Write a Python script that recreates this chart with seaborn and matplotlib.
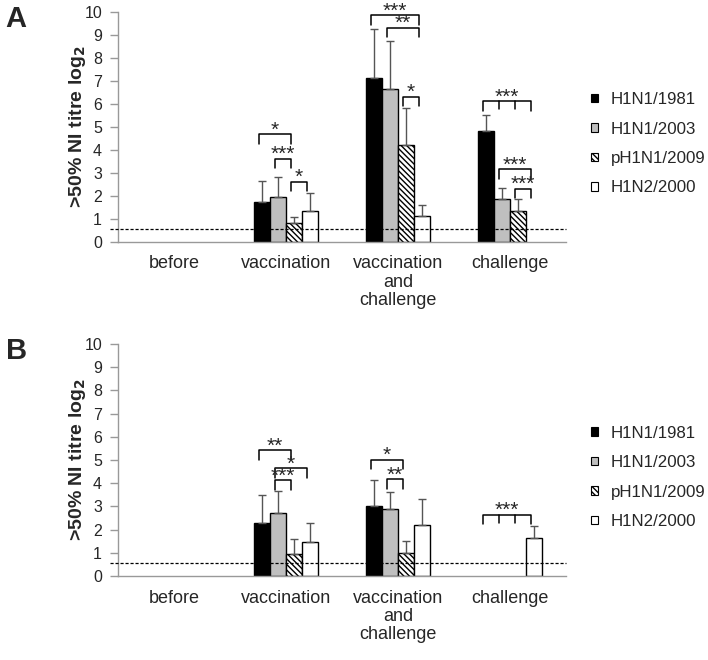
import numpy as np
import pandas as pd
import matplotlib
matplotlib.use("Agg")
import matplotlib.pyplot as plt
import seaborn as sns
from matplotlib.patches import Patch

# ------------------------------------------------------
# Data
# ------------------------------------------------------
groups = ["before", "vaccination", "vaccination\nand\nchallenge", "challenge"]
strains = ["H1N1/1981", "H1N1/2003", "pH1N1/2009", "H1N2/2000"]

# panel A: means and upper SD
a_h1n1_1981 = [0, 1.7, 7.1, 4.8]
a_h1n1_2003 = [0, 1.95, 6.65, 1.85]
a_ph1n1_2009 = [0, 0.8, 4.2, 1.35]
a_h1n2_2000 = [0, 1.35, 1.1, 0]
a_sd_1981 = [0, 0.95, 2.15, 0.7]
a_sd_2003 = [0, 0.85, 2.05, 0.5]
a_sd_2009 = [0, 0.25, 1.6, 0.5]
a_sd_h1n2 = [0, 0.75, 0.5, 0]
a_cutoff = 0.56

# panel B
b_h1n1_1981 = [0, 2.3, 3.0, 0]
b_h1n1_2003 = [0, 2.7, 2.9, 0]
b_ph1n1_2009 = [0, 0.95, 1.0, 0]
b_h1n2_2000 = [0, 1.45, 2.2, 1.65]
b_sd_1981 = [0, 1.2, 1.15, 0]
b_sd_2003 = [0, 0.95, 0.7, 0]
b_sd_2009 = [0, 0.65, 0.5, 0]
b_sd_h1n2 = [0, 0.85, 1.1, 0.5]
b_cutoff = 0.58

# significance brackets: (group, bar from, bar to, height, label, inner ticks)
a_brackets = [
    (1, 0, 2, 4.67, "*", False),
    (1, 1, 2, 3.6, "***", False),
    (1, 2, 3, 2.6, "*", False),
    (2, 0, 3, 9.85, "***", False),
    (2, 1, 3, 9.3, "**", False),
    (2, 2, 3, 6.3, "*", False),
    (3, 0, 3, 6.1, "***", True),
    (3, 1, 3, 3.15, "***", False),
    (3, 2, 3, 2.3, "***", False),
]
b_brackets = [
    (1, 0, 2, 5.43, "**", False),
    (1, 1, 3, 4.65, "*", False),
    (1, 1, 2, 4.13, "***", False),
    (2, 0, 2, 5.02, "*", False),
    (2, 1, 2, 4.16, "**", False),
    (3, 0, 3, 2.64, "***", True),
]

colors = ["black", "#bfbfbf", "white", "white"]
hatches = ["", "", "\\" * 6, ""]

sns.set_theme(style="white")
plt.rcParams["font.family"] = ["Liberation Sans", "DejaVu Sans"]
plt.rcParams["hatch.linewidth"] = 1.0


def make_frame(means, sds):
    rows = []
    for s, m_list, sd_list in zip(strains, means, sds):
        for g, m, sd in zip(groups, m_list, sd_list):
            rows.append({"group": g, "strain": s, "titre": m, "sd": sd})
    return pd.DataFrame(rows)


def draw_panel(ax, df, cutoff, brackets, letter):
    sns.barplot(data=df, x="group", y="titre", hue="strain", order=groups,
                hue_order=strains, palette=colors, width=0.571, errorbar=None,
                edgecolor="black", linewidth=1.0, saturation=1, ax=ax)

    bar_containers = list(ax.containers)
    centers = {}
    width = 0
    for k, cont in enumerate(bar_containers):
        sub = df[df["strain"] == strains[k]].set_index("group").loc[groups]
        for g_i, (bar, m, sd) in enumerate(zip(cont.patches, sub["titre"], sub["sd"])):
            bar.set_hatch(hatches[k])
            width = bar.get_width()
            cx = bar.get_x() + width / 2
            centers[(g_i, k)] = cx
            if m == 0:
                bar.set_visible(False)
            if sd > 0:
                ax.errorbar(cx, m, yerr=[[0], [sd]], fmt="none", ecolor="#555555",
                            elinewidth=1, capsize=2.6, capthick=1, zorder=1)

    ax.axhline(cutoff, xmin=-0.018, xmax=1, color="black", linestyle=(0, (2.5, 1.5)),
               linewidth=0.9, zorder=3, clip_on=False)

    drop = 0.42
    for g_i, i, j, h, label, inner in brackets:
        x0 = centers[(g_i, i)] - 0.2 * width
        x1 = centers[(g_i, j)] - 0.2 * width
        ax.plot([x0, x0, x1, x1], [h - drop, h, h, h - drop], color="black", lw=1.1,
                clip_on=False)
        if inner:
            for k in range(i + 1, j):
                xm = centers[(g_i, k)] - 0.2 * width
                ax.plot([xm, xm], [h, h - drop * 0.85], color="black", lw=1.1)
        ax.text((x0 + x1) / 2, h - 0.06, label, ha="center", va="baseline",
                fontsize=15, clip_on=False)

    ax.set_ylim(0, 10)
    ax.set_xlim(-0.5, 3.5)
    ax.set_yticks(range(0, 11))
    ax.set_xlabel("")
    ax.set_ylabel(">50% NI titre log$_\\mathbf{2}$", fontsize=14, fontweight="bold", labelpad=-3)
    ax.tick_params(axis="y", labelsize=11.5, length=5.5, width=1, color="#999999",
                   left=True, pad=6)
    ax.tick_params(axis="x", labelsize=13, length=0, pad=10)
    for lab in ax.get_xticklabels():
        lab.set_linespacing(1.1)
    for side in ["top", "right"]:
        ax.spines[side].set_visible(False)
    for side in ["left", "bottom"]:
        ax.spines[side].set_color("#999999")
        ax.spines[side].set_linewidth(1)

    handles = [Patch(facecolor=c, edgecolor="black", hatch=h, linewidth=0.8)
               for c, h in zip(colors, hatches)]
    ax.legend(handles, strains, loc="center left", bbox_to_anchor=(1.056, 0.425),
              frameon=False, fontsize=12.2, handlelength=0.4, handleheight=0.4,
              labelspacing=0.85, handletextpad=0.75, borderpad=0, borderaxespad=0)
    ax.figure.text(0.008, ax.get_position().y1 + 0.01, letter, fontsize=21,
                   fontweight="bold", va="top", ha="left")


fig = plt.figure(figsize=(7.08, 6.6), dpi=100)
ax_a = fig.add_axes([0.1667, 0.634, 0.6328, 0.3485])
ax_b = fig.add_axes([0.1667, 0.1273, 0.6328, 0.3515])

df_a = make_frame([a_h1n1_1981, a_h1n1_2003, a_ph1n1_2009, a_h1n2_2000],
                  [a_sd_1981, a_sd_2003, a_sd_2009, a_sd_h1n2])
df_b = make_frame([b_h1n1_1981, b_h1n1_2003, b_ph1n1_2009, b_h1n2_2000],
                  [b_sd_1981, b_sd_2003, b_sd_2009, b_sd_h1n2])

draw_panel(ax_a, df_a, a_cutoff, a_brackets, "A")
draw_panel(ax_b, df_b, b_cutoff, b_brackets, "B")

fig.savefig("out.png", dpi=100)
